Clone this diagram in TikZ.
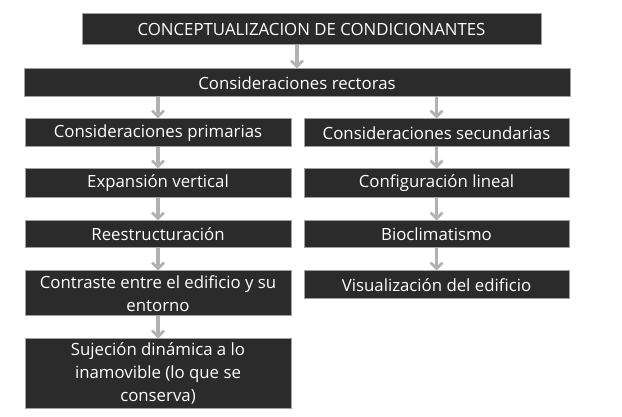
\documentclass[tikz,border=0pt]{standalone}
\usepackage{fontspec}
\setmainfont{Open Sans}
\usetikzlibrary{arrows.meta}
\definecolor{cajafondo}{RGB}{43,43,43}
\definecolor{cajaborde}{RGB}{160,160,160}
\definecolor{flechagris}{RGB}{178,178,178}
\begin{document}
\begin{tikzpicture}[x=0.75pt,y=0.75pt,yscale=-1,xscale=1,
		caja/.style={draw=cajaborde,fill=cajafondo,line width=0.75pt,text=white,font=\fontsize{12.6}{17}\selectfont,align=center,inner sep=0pt,anchor=center},
		flecha/.style={draw=flechagris,line width=2.4pt,-{Straight Barb[length=4.5pt,width=9pt,line width=2pt]}}]
		\useasboundingbox (0,0) rectangle (622,417);
		
		% Text Node
		\node [caja,minimum width=459*0.75pt,minimum height=31*0.75pt] (concep) at (311.5,29.5) {CONCEPTUALIZACION DE CONDICIONANTES};
		% Text Node
		\node [caja,minimum width=546*0.75pt,minimum height=28*0.75pt] (rectoras) at (297,83) {Consideraciones rectoras};
		% Text Node
		\node [caja,minimum width=266*0.75pt,minimum height=28*0.75pt] (primarias) at (158,133) {Consideraciones primarias};
		% Text Node
		\node [caja,minimum width=265*0.75pt,minimum height=28*0.75pt] (secundarias) at (436.5,133) {Consideraciones secundarias};
		% Text Node
		\node [caja,minimum width=266*0.75pt,minimum height=29*0.75pt] (expansion) at (158,183.5) {Expansión vertical};
		% Text Node
		\node [caja,minimum width=265*0.75pt,minimum height=29*0.75pt] (lineal) at (436.5,183.5) {Configuración lineal};
		% Text Node
		\node [caja,minimum width=266*0.75pt,minimum height=27*0.75pt] (reestruc) at (158,234.5) {Reestructuración};
		% Text Node
		\node [caja,minimum width=265*0.75pt,minimum height=27*0.75pt] (bioclima) at (436.5,234.5) {Bioclimatismo};
		% Text Node
		\node [caja,minimum width=266*0.75pt,minimum height=45*0.75pt] (contraste) at (158,293.5) {Contraste entre el edificio y su\\entorno};
		% Text Node
		\node [caja,minimum width=265*0.75pt,minimum height=28*0.75pt] (visual) at (436.5,285) {Visualización del edificio};
		% Text Node
		\node [caja,minimum width=266*0.75pt,minimum height=69*0.75pt] (sujecion) at (158,373.5) {Sujeción dinámica a lo\\inamovible (lo que se\\conserva)};
		
		%Straight Lines
		\draw [flecha] (concep.south -| rectoras.north) -- (rectoras.north);
		\draw [flecha] (rectoras.south -| primarias.north) -- (primarias.north);
		\draw [flecha] (rectoras.south -| secundarias.north) -- (secundarias.north);
		\draw [flecha] (primarias.south) -- (expansion.north);
		\draw [flecha] (expansion.south) -- (reestruc.north);
		\draw [flecha] (reestruc.south) -- (contraste.north);
		\draw [flecha] (contraste.south) -- (sujecion.north);
		\draw [flecha] (secundarias.south) -- (lineal.north);
		\draw [flecha] (lineal.south) -- (bioclima.north);
		\draw [flecha] (bioclima.south) -- (visual.north);
		
	\end{tikzpicture}
\end{document}
